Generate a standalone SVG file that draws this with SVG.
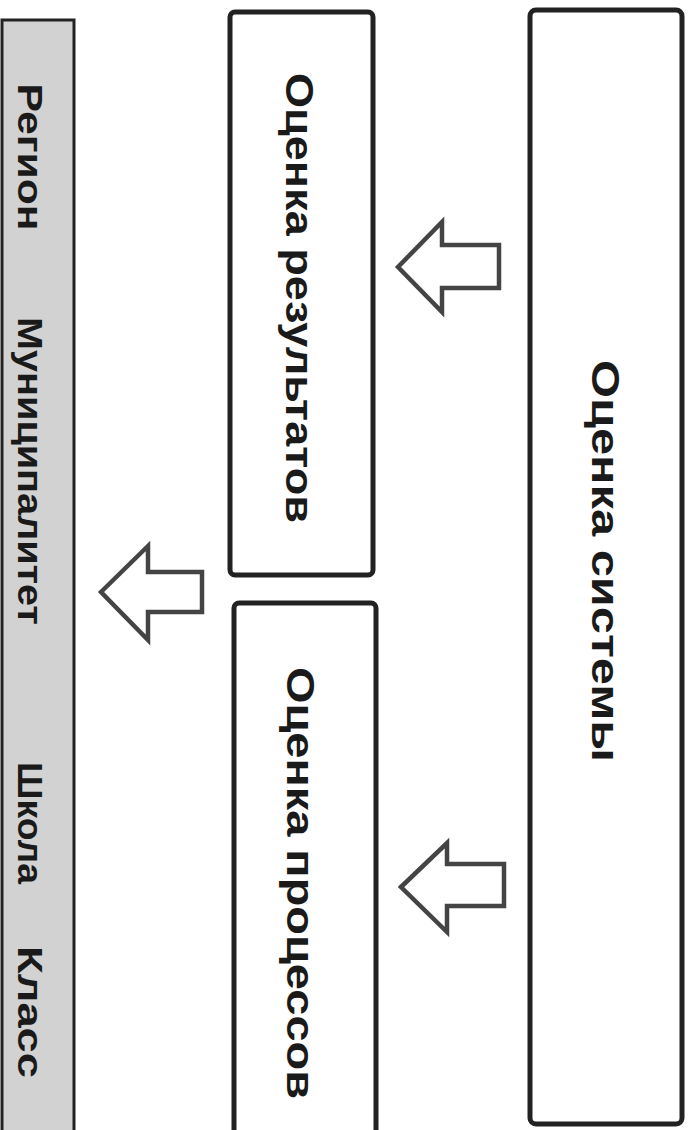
<svg xmlns="http://www.w3.org/2000/svg" width="693" height="1130" viewBox="0 0 693 1130">
<style>
.box{fill:#fff;stroke:#222;stroke-width:5}
.bar{fill:#d2d2d2;stroke:#222;stroke-width:3}
.arrow{fill:#fff;stroke:#444;stroke-width:4.5;stroke-linejoin:miter}
.t{font-family:"Liberation Sans",Arial,sans-serif;font-weight:bold;fill:#1a1a1a;text-anchor:middle}
.tb{font-size:35px}
.tm{font-size:38px}
</style>
<rect width="693" height="1130" fill="#fff"/>
<g id="levels">
<rect class="bar" x="2" y="20" width="72" height="1120"/>
<text class="t tb" transform="translate(31,157) rotate(90)" dy="0.36em" textLength="147" lengthAdjust="spacingAndGlyphs">Регион</text>
<text class="t tb" transform="translate(31,471) rotate(90)" dy="0.36em" textLength="308" lengthAdjust="spacingAndGlyphs">Муниципалитет</text>
<text class="t tb" transform="translate(31,823) rotate(90)" dy="0.36em" textLength="122" lengthAdjust="spacingAndGlyphs">Школа</text>
<text class="t tb" transform="translate(31,1012) rotate(90)" dy="0.36em" textLength="132" lengthAdjust="spacingAndGlyphs">Класс</text>
</g>
<g id="results">
<rect class="box" x="230" y="12" width="143" height="563" rx="5"/>
<text class="t tm" transform="translate(300,298) rotate(90)" dy="0.36em" textLength="450" lengthAdjust="spacingAndGlyphs">Оценка результатов</text>
</g>
<g id="processes">
<rect class="box" x="234" y="603" width="142" height="545" rx="5"/>
<text class="t tm" transform="translate(301,883) rotate(90)" dy="0.36em" textLength="432" lengthAdjust="spacingAndGlyphs">Оценка процессов</text>
</g>
<g id="system">
<rect class="box" x="530" y="10" width="152" height="1114" rx="6"/>
<text class="t tm" transform="translate(606,561) rotate(90)" dy="0.36em" textLength="402" lengthAdjust="spacingAndGlyphs">Оценка системы</text>
</g>
<g id="connectors">
<polygon class="arrow" points="398,267 442,222 442,245 499,245 499,288 442,288 442,312"/>
<polygon class="arrow" points="101,592 148,546 148,572 202,572 202,612 148,612 148,640"/>
<polygon class="arrow" points="401,887 447,843 447,864 504,864 504,906 447,906 447,932"/>
</g>
</svg>
